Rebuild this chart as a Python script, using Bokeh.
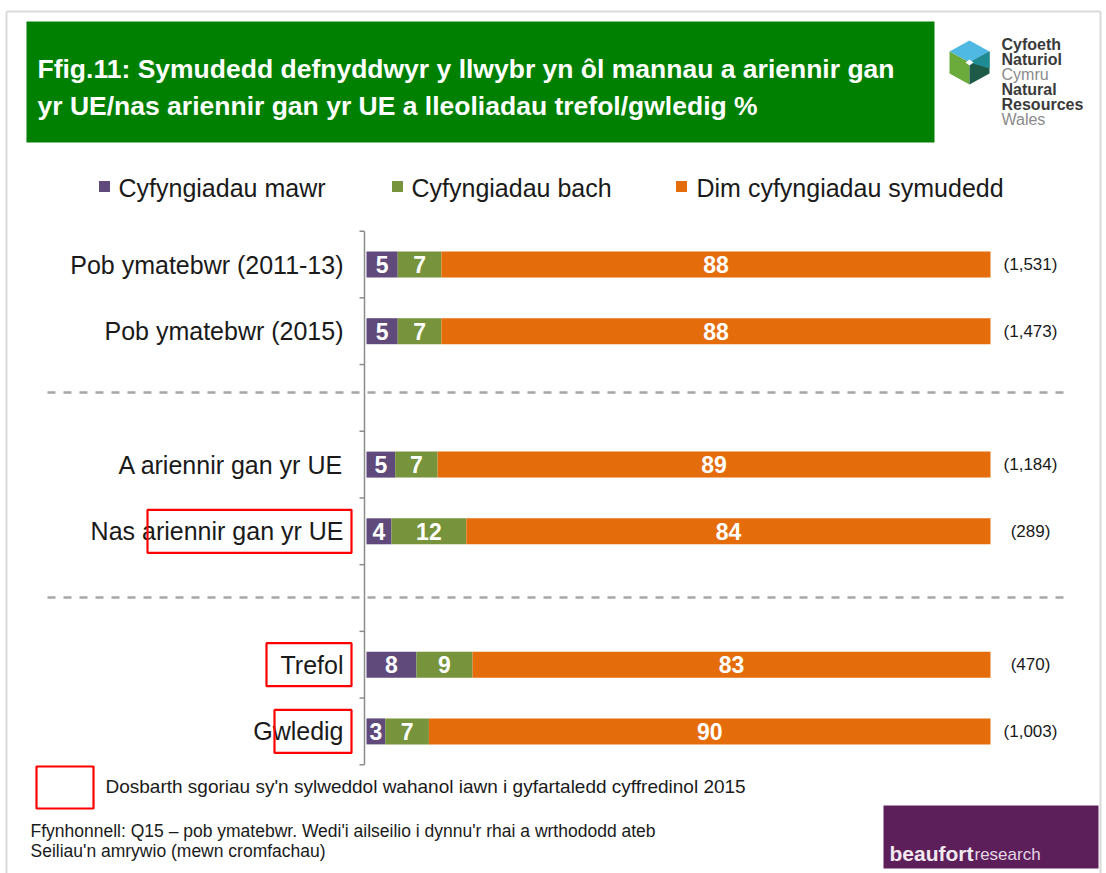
from bokeh.plotting import figure
from bokeh.models import Range1d, ColumnDataSource
from bokeh.core.properties import value
from bokeh.embed import file_html
from bokeh.resources import INLINE

# ---------------- data ----------------
categories = ["Pob ymatebwr (2011-13)", "Pob ymatebwr (2015)", "A ariennir gan yr UE",
              "Nas ariennir gan yr UE", "Trefol", "Gwledig"]
slots = [0, 1, 3, 4, 6, 7]          # row positions (gaps at 2 and 5 for the dashed separators)
series_names = ["Cyfyngiadau mawr", "Cyfyngiadau bach", "Dim cyfyngiadau symudedd"]
mawr = [5, 5, 4.6, 4, 8, 3]
bach = [7, 7, 6.8, 12, 9, 7]
dim = [88, 88, 88.6, 84, 83, 90]
bases = ["(1,531)", "(1,473)", "(1,184)", "(289)", "(470)", "(1,003)"]
highlighted = ["Nas ariennir gan yr UE", "Trefol", "Gwledig"]
colors = ["#604a7b", "#77933c", "#e46c0a"]

title_lines = ["Ffig.11: Symudedd defnyddwyr y llwybr yn ôl mannau a ariennir gan",
               "yr UE/nas ariennir gan yr UE a lleoliadau trefol/gwledig %"]
note_key = "Dosbarth sgoriau sy'n sylweddol wahanol iawn i gyfartaledd cyffredinol 2015"
source_lines = ["Ffynhonnell: Q15 \u2013 pob ymatebwr. Wedi'i ailseilio i dynnu'r rhai a wrthododd ateb",
                "Seiliau'n amrywio (mewn cromfachau)"]
logo_lines = ["Cyfoeth", "Naturiol", "Cymru", "Natural", "Resources", "Wales"]

# ---------------- geometry helpers (page pixel -> data units) ----------------
X0, SX = 366.0, 6.24     # x pixel of 0 %, pixels per %
Y0, SY = 264.0, 66.7     # y pixel of first row, pixels per row


def dx(px):
    return (px - X0) / SX


def dy(py):
    return (py - Y0) / SY


W, H = 1106, 873
p = figure(width=W, height=H, output_backend="svg", toolbar_location=None,
           x_range=Range1d(dx(0), dx(W)), y_range=Range1d(dy(H), dy(0)),
           min_border=0, outline_line_color=None)
p.axis.visible = False
p.grid.visible = False
p.background_fill_color = "white"
p.border_fill_color = "white"

SANS = value("Liberation Sans")

# outer frame
p.segment(x0=[dx(6), dx(6), dx(1100)], y0=[dy(11), dy(11), dy(11)],
          x1=[dx(1100), dx(6), dx(1100)], y1=[dy(11), dy(873), dy(873)],
          line_color="#d9d9d9", line_width=2)

# title box
p.quad(left=dx(26), right=dx(934), top=dy(21), bottom=dy(142),
       fill_color="#008000", line_color=None)
p.text(x=[dx(37), dx(37)], y=[dy(68), dy(105)], text=title_lines,
       text_color="white", text_font=SANS, text_font_style="bold",
       text_font_size="26.5px", text_baseline="middle", text_align="left")

# logo (hexagon made of faces)
cx, cy = 969, 62
p.patch(x=[dx(cx), dx(cx - 20), dx(cx), dx(cx + 20)],
        y=[dy(cy), dy(cy - 11), dy(cy - 22), dy(cy - 11)], color="#4fb8e3", line_color=None)
p.patch(x=[dx(cx), dx(cx - 20), dx(cx - 20), dx(cx)],
        y=[dy(cy), dy(cy - 11), dy(cy + 11), dy(cy + 22)], color="#6aab3c", line_color=None)
p.patch(x=[dx(cx), dx(cx + 20), dx(cx + 20), dx(cx)],
        y=[dy(cy), dy(cy - 11), dy(cy + 11), dy(cy + 22)], color="#1d5b48", line_color=None)
p.patch(x=[dx(cx), dx(cx + 20), dx(cx + 20)],
        y=[dy(cy), dy(cy - 11), dy(cy + 6)], color="#1f8c94", line_color=None)
p.patch(x=[dx(cx), dx(cx + 4), dx(cx), dx(cx - 4)],
        y=[dy(cy - 3), dy(cy), dy(cy + 3), dy(cy)], color="white", line_color=None)
logo_y = [44, 59, 74, 89, 104, 119]
logo_bold = [True, True, False, True, True, False]
for t, yy, b in zip(logo_lines, logo_y, logo_bold):
    p.text(x=[dx(1001)], y=[dy(yy)], text=[t], text_font=SANS,
           text_font_style="bold" if b else "normal",
           text_color="#3a3a3a" if b else "#8a8a8a", text_font_size="16px",
           text_baseline="middle", text_align="left")

# legend
leg_sq_x = [104, 397, 681]
leg_tx_x = [118, 411, 696]
p.scatter(x=[dx(v) for v in leg_sq_x], y=[dy(186)] * 3, marker="square", size=11,
          fill_color=colors, line_color=None)
p.text(x=[dx(v) for v in leg_tx_x], y=[dy(187)] * 3, text=series_names,
       text_font=SANS, text_font_size="25px", text_color="#1a1a1a",
       text_baseline="middle", text_align="left")

# dashed separators
for yy in [392, 597]:
    p.segment(x0=[dx(47)], y0=[dy(yy)], x1=[dx(1066)], y1=[dy(yy)],
              line_color="#a6a6a6", line_width=2.5, line_dash="8 8")

# stacked bars
src = ColumnDataSource(dict(y=slots, mawr=mawr, bach=bach, dim=dim))
p.hbar_stack(["mawr", "bach", "dim"], y="y", height=26 / SY, color=colors,
             line_color=None, source=src)

# value labels on bars
lx, ly, lt = [], [], []
for i, s in enumerate(slots):
    left = 0
    for v in (mawr[i], bach[i], dim[i]):
        lx.append(left + v / 2)
        ly.append(s)
        lt.append(str(int(v + 0.5)))
        left += v
p.text(x=lx, y=ly, text=lt, text_color="white", text_font=SANS,
       text_font_style="bold", text_font_size="23px",
       text_baseline="middle", text_align="center")

# category axis
p.segment(x0=[dx(364)], y0=[dy(231)], x1=[dx(364)], y1=[dy(764)],
          line_color="#8c8c8c", line_width=1.5)
ticks = [k - 0.5 for k in range(9)]
p.segment(x0=[dx(359)] * 9, y0=ticks, x1=[dx(364)] * 9, y1=ticks,
          line_color="#8c8c8c", line_width=1.5)
p.text(x=[dx(343)] * len(categories), y=slots, text=categories,
       text_font=SANS, text_font_size="25px", text_color="#1a1a1a",
       text_baseline="middle", text_align="right")

# base sizes
p.text(x=[dx(1030)] * len(bases), y=slots, text=bases, text_font=SANS,
       text_font_size="17px", text_color="#1a1a1a",
       text_baseline="middle", text_align="center")

# red highlight boxes around significant categories
hb = {"Nas ariennir gan yr UE": (147, 351), "Trefol": (266, 351), "Gwledig": (274, 351)}
for name in highlighted:
    i = categories.index(name)
    l, r = hb[name]
    p.quad(left=dx(l), right=dx(r), top=slots[i] - 21.5 / SY, bottom=slots[i] + 21.5 / SY,
           fill_color=None, line_color="#ff0000", line_width=2.2)

# key for red boxes
p.quad(left=dx(36), right=dx(93), top=dy(766), bottom=dy(808),
       fill_color=None, line_color="#ff0000", line_width=2.2)
p.text(x=[dx(105)], y=[dy(786)], text=[note_key], text_font=SANS,
       text_font_size="19px", text_color="#1a1a1a", text_baseline="middle", text_align="left")

# source notes
p.text(x=[dx(30), dx(30)], y=[dy(830), dy(850)], text=source_lines, text_font=SANS,
       text_font_size="17.5px", text_color="#1a1a1a", text_baseline="middle", text_align="left")

# beaufort research badge
p.quad(left=dx(883), right=dx(1098), top=dy(805), bottom=dy(868),
       fill_color="#5c1f5a", line_color=None)
p.text(x=[dx(889)], y=[dy(853)], text=["beaufort"], text_font=SANS, text_font_style="bold",
       text_font_size="21px", text_color="#f2e8f0", text_baseline="middle", text_align="left")
p.text(x=[dx(974)], y=[dy(854)], text=["research"], text_font=SANS,
       text_font_size="17px", text_color="#e6d6e4", text_baseline="middle", text_align="left")

open("out.html", "w").write(file_html(p, INLINE))
